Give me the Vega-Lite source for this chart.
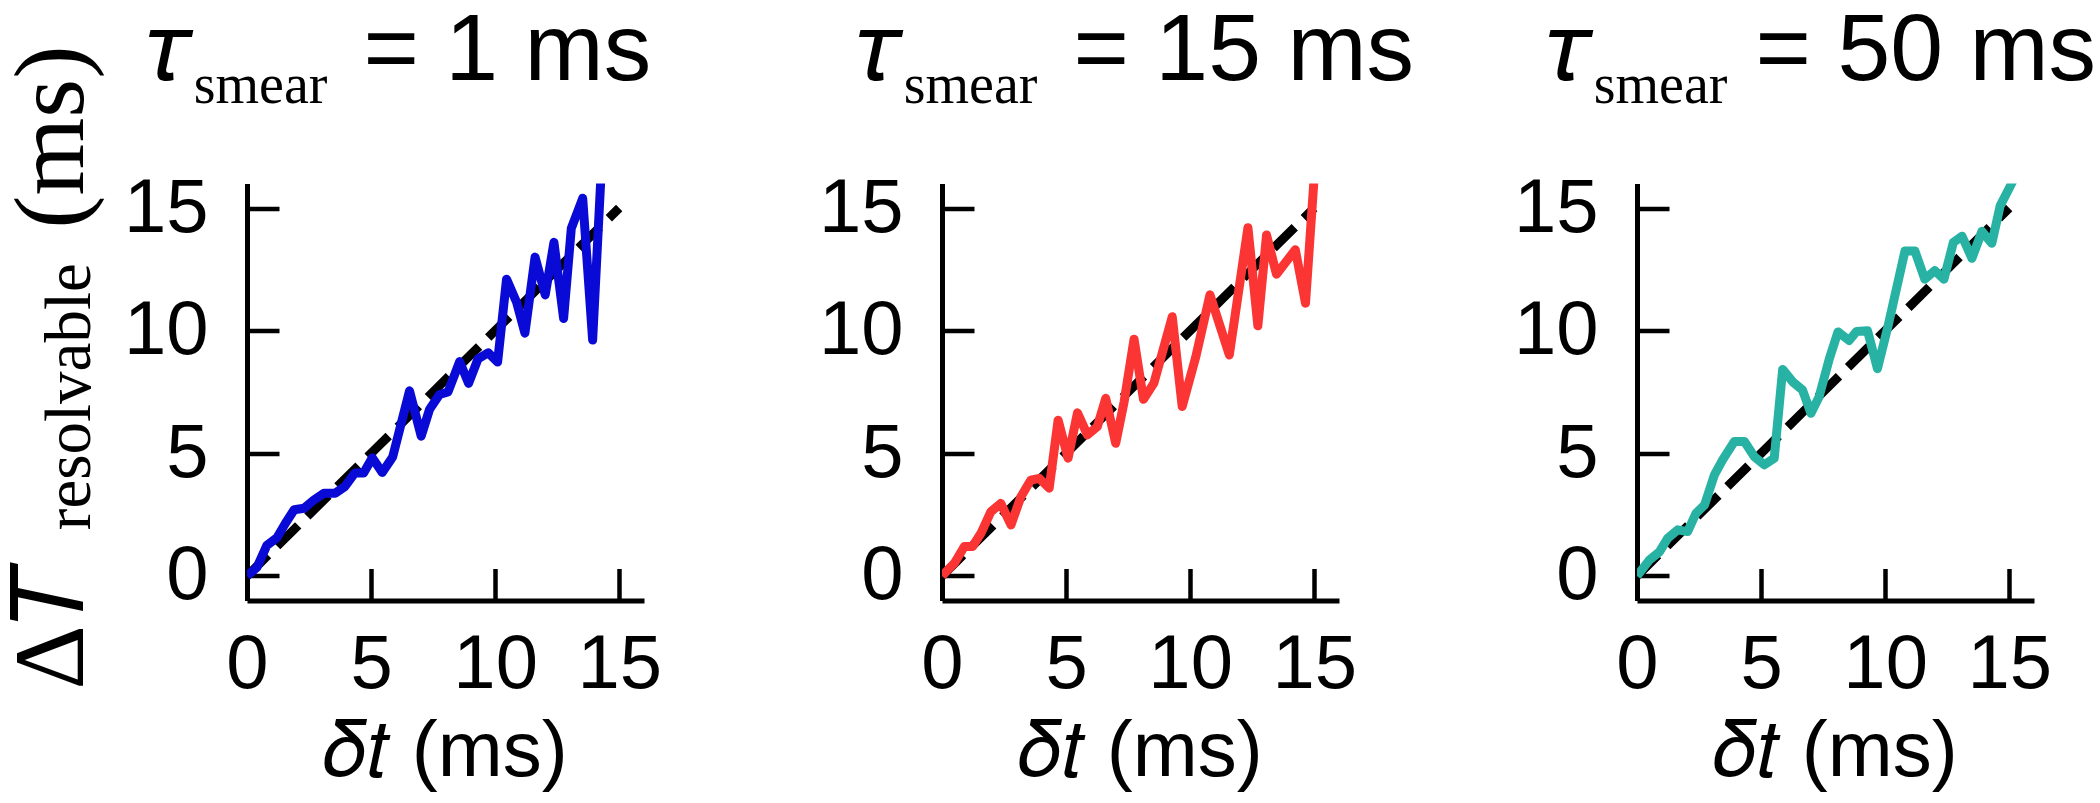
{
  "$schema": "https://vega.github.io/schema/vega-lite/v6.json",
  "autosize": {"type": "pad"},
  "padding": {"left": 3, "top": 3.5, "right": 0, "bottom": 0},
  "background": "white",
  "datasets": {
    "diag": [{"x": 0, "y": 0}, {"x": 15, "y": 15}],
    "p1": [
      {"x": 0, "y": 0}, {"x": 0.4, "y": 0.35}, {"x": 0.8, "y": 1.25}, {"x": 1.2, "y": 1.55}, {"x": 1.55, "y": 2.15},
      {"x": 1.9, "y": 2.7}, {"x": 2.3, "y": 2.76}, {"x": 2.7, "y": 3.1}, {"x": 3.1, "y": 3.37}, {"x": 3.55, "y": 3.37},
      {"x": 3.95, "y": 3.65}, {"x": 4.35, "y": 4.2}, {"x": 4.7, "y": 4.2}, {"x": 5.05, "y": 4.82}, {"x": 5.45, "y": 4.22},
      {"x": 5.87, "y": 4.85}, {"x": 6.55, "y": 7.55}, {"x": 7.02, "y": 5.7}, {"x": 7.36, "y": 6.8}, {"x": 7.76, "y": 7.4},
      {"x": 8.1, "y": 7.5}, {"x": 8.57, "y": 8.74}, {"x": 8.93, "y": 7.85}, {"x": 9.31, "y": 8.85}, {"x": 9.72, "y": 9.1},
      {"x": 10.1, "y": 8.72}, {"x": 10.46, "y": 12.1}, {"x": 10.87, "y": 11.15}, {"x": 11.2, "y": 9.9}, {"x": 11.61, "y": 13.0},
      {"x": 12.02, "y": 11.46}, {"x": 12.37, "y": 13.6}, {"x": 12.76, "y": 10.5}, {"x": 13.07, "y": 14.17}, {"x": 13.53, "y": 15.4},
      {"x": 13.93, "y": 9.62}, {"x": 14.3, "y": 17}
    ],
    "p2": [
      {"x": 0, "y": 0}, {"x": 0.5, "y": 0.52}, {"x": 0.9, "y": 1.2}, {"x": 1.23, "y": 1.2}, {"x": 1.57, "y": 1.74},
      {"x": 1.97, "y": 2.62}, {"x": 2.37, "y": 2.96}, {"x": 2.78, "y": 2.08}, {"x": 3.18, "y": 3.23}, {"x": 3.58, "y": 3.91},
      {"x": 3.92, "y": 3.98}, {"x": 4.32, "y": 3.58}, {"x": 4.68, "y": 6.35}, {"x": 5.08, "y": 4.8}, {"x": 5.46, "y": 6.65},
      {"x": 5.86, "y": 5.75}, {"x": 6.26, "y": 6.09}, {"x": 6.6, "y": 7.24}, {"x": 7.0, "y": 5.41}, {"x": 7.34, "y": 7.1},
      {"x": 7.74, "y": 9.65}, {"x": 8.12, "y": 7.2}, {"x": 8.54, "y": 7.86}, {"x": 9.28, "y": 10.57}, {"x": 9.68, "y": 6.91},
      {"x": 10.22, "y": 8.9}, {"x": 10.8, "y": 11.46}, {"x": 11.58, "y": 9.01}, {"x": 12.33, "y": 14.2}, {"x": 12.73, "y": 10.2},
      {"x": 13.08, "y": 13.9}, {"x": 13.48, "y": 12.3}, {"x": 14.24, "y": 13.3}, {"x": 14.65, "y": 11.12}, {"x": 15.05, "y": 17}
    ],
    "p3": [
      {"x": 0, "y": 0}, {"x": 0.5, "y": 0.65}, {"x": 0.91, "y": 0.99}, {"x": 1.24, "y": 1.54}, {"x": 1.64, "y": 1.88},
      {"x": 2.04, "y": 1.81}, {"x": 2.38, "y": 2.56}, {"x": 2.72, "y": 2.89}, {"x": 3.12, "y": 4.12}, {"x": 3.45, "y": 4.73},
      {"x": 3.92, "y": 5.48}, {"x": 4.33, "y": 5.48}, {"x": 4.73, "y": 4.86}, {"x": 5.13, "y": 4.53}, {"x": 5.53, "y": 4.8},
      {"x": 5.87, "y": 8.42}, {"x": 6.27, "y": 7.92}, {"x": 6.67, "y": 7.58}, {"x": 7.01, "y": 6.63}, {"x": 7.34, "y": 7.31},
      {"x": 7.75, "y": 8.85}, {"x": 8.1, "y": 9.95}, {"x": 8.55, "y": 9.6}, {"x": 8.85, "y": 9.97}, {"x": 9.29, "y": 10.0},
      {"x": 9.69, "y": 8.45}, {"x": 10.12, "y": 10.2}, {"x": 10.8, "y": 13.25}, {"x": 11.2, "y": 13.25}, {"x": 11.6, "y": 12.1},
      {"x": 12.0, "y": 12.45}, {"x": 12.37, "y": 12.1}, {"x": 12.75, "y": 13.6}, {"x": 13.1, "y": 13.85}, {"x": 13.5, "y": 12.95},
      {"x": 13.9, "y": 14.05}, {"x": 14.3, "y": 13.56}, {"x": 14.64, "y": 15.1}, {"x": 15.15, "y": 16.1}
    ]
  },
  "title": {
    "text": "\u0394\uD835\uDC47\u2003\u2003\u2003\u2004(ms)",
    "subtitle": "\u2060\u2002\u2002\u2002\u2002\u2005\u2009resolvable",
    "orient": "left",
    "anchor": "start",
    "frame": "group",
    "dx": -89,
    "offset": 19,
    "font": "Liberation Serif",
    "fontSize": 100,
    "fontWeight": "normal",
    "color": "black",
    "subtitleFont": "Liberation Serif",
    "subtitleFontSize": 65,
    "subtitleColor": "black",
    "subtitlePadding": -65
  },
  "bounds": "flush",
  "spacing": 298,
  "hconcat": [
    {
      "width": 397,
      "height": 417,
      "title": {"text": "\uD835\uDF0F\u2003\u2002\u2009\u200A= 1 ms", "subtitle": "\u2060\u2002\u2004smear", "dx": -100},
      "encoding": {
        "x": {"field": "x", "type": "quantitative", "scale": {"domain": [0, 16], "nice": false, "zero": false}, "axis": {"values": [0, 5, 10, 15], "title": "\uD835\uDEFF\uD835\uDC61 (ms)"}},
        "y": {"field": "y", "type": "quantitative", "scale": {"domain": [-1, 16], "nice": false, "zero": false}, "axis": {"values": [0, 5, 10, 15], "title": null}}
      },
      "layer": [
        {"data": {"name": "diag"}, "mark": {"type": "line", "color": "black", "strokeWidth": 9, "strokeDash": [29.6, 12.8], "clip": true}},
        {"data": {"name": "p1"}, "mark": {"type": "line", "color": "#0a0ad6", "strokeWidth": 9, "strokeJoin": "round", "clip": true}}
      ]
    },
    {
      "width": 397,
      "height": 417,
      "title": {"text": "\uD835\uDF0F\u2003\u2002\u2009\u200A= 15 ms", "subtitle": "\u2060\u2002\u2004smear", "dx": -85},
      "encoding": {
        "x": {"field": "x", "type": "quantitative", "scale": {"domain": [0, 16], "nice": false, "zero": false}, "axis": {"values": [0, 5, 10, 15], "title": "\uD835\uDEFF\uD835\uDC61 (ms)"}},
        "y": {"field": "y", "type": "quantitative", "scale": {"domain": [-1, 16], "nice": false, "zero": false}, "axis": {"values": [0, 5, 10, 15], "title": null}}
      },
      "layer": [
        {"data": {"name": "diag"}, "mark": {"type": "line", "color": "black", "strokeWidth": 9, "strokeDash": [29.6, 12.8], "clip": true}},
        {"data": {"name": "p2"}, "mark": {"type": "line", "color": "#fb3434", "strokeWidth": 9, "strokeJoin": "round", "clip": true}}
      ]
    },
    {
      "width": 397,
      "height": 417,
      "title": {"text": "\uD835\uDF0F\u2003\u2002\u2009= 50 ms", "subtitle": "\u2060\u2002\u2004smear", "dx": -90},
      "encoding": {
        "x": {"field": "x", "type": "quantitative", "scale": {"domain": [0, 16], "nice": false, "zero": false}, "axis": {"values": [0, 5, 10, 15], "title": "\uD835\uDEFF\uD835\uDC61 (ms)"}},
        "y": {"field": "y", "type": "quantitative", "scale": {"domain": [-1, 16], "nice": false, "zero": false}, "axis": {"values": [0, 5, 10, 15], "title": null}}
      },
      "layer": [
        {"data": {"name": "diag"}, "mark": {"type": "line", "color": "black", "strokeWidth": 9, "strokeDash": [29.6, 12.8], "clip": true}},
        {"data": {"name": "p3"}, "mark": {"type": "line", "color": "#28b2a4", "strokeWidth": 9, "strokeJoin": "round", "clip": true}}
      ]
    }
  ],
  "config": {
    "view": {"stroke": null},
    "axis": {
      "grid": false,
      "domainColor": "black",
      "domainWidth": 5,
      "tickColor": "black",
      "tickWidth": 4.5,
      "tickSize": -32,
      "labelFont": "Liberation Sans",
      "labelFontSize": 76,
      "labelColor": "black",
      "labelFlush": false,
      "labelOverlap": false,
      "titleFont": "Liberation Sans",
      "titleFontSize": 78,
      "titleFontWeight": "normal",
      "titleColor": "black"
    },
    "axisX": {"labelPadding": 59, "titlePadding": 11},
    "axisY": {"labelPadding": 71},
    "title": {
      "font": "Liberation Sans",
      "fontSize": 95,
      "fontWeight": "normal",
      "color": "black",
      "subtitleFont": "Liberation Serif",
      "subtitleFontSize": 56,
      "subtitleColor": "black",
      "subtitlePadding": -41,
      "anchor": "start",
      "frame": "group",
      "offset": 55
    }
  }
}
